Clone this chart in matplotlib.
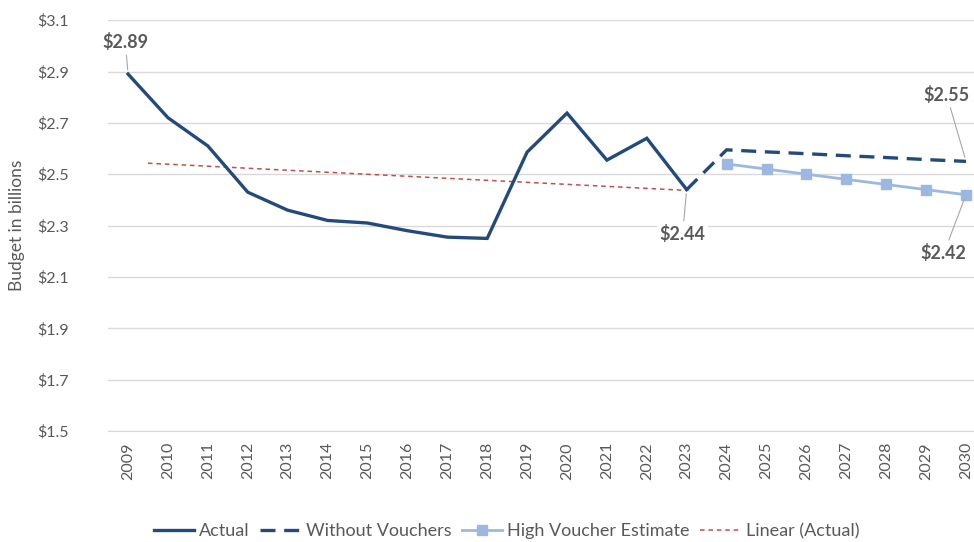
import numpy as np
import matplotlib.pyplot as plt

# donnees
years_actual = [2009, 2010, 2011, 2012, 2013, 2014, 2015, 2016, 2017, 2018,
                2019, 2020, 2021, 2022, 2023]
actual = [2.89, 2.72, 2.61, 2.43, 2.36, 2.32, 2.31, 2.28, 2.255, 2.25,
          2.586, 2.738, 2.555, 2.64, 2.44]

years_proj = [2023, 2024, 2025, 2026, 2027, 2028, 2029, 2030]
without_vouchers = [2.44, 2.595, 2.587, 2.58, 2.572, 2.565, 2.557, 2.55]

years_high = [2024, 2025, 2026, 2027, 2028, 2029, 2030]
high_voucher = [2.54, 2.52, 2.50, 2.48, 2.46, 2.44, 2.42]

# tendance lineaire
trend_years = [2009.5, 2023]
trend_vals = [2.543, 2.437]

all_years = list(range(2009, 2031))
yticks = [1.5, 1.7, 1.9, 2.1, 2.3, 2.5, 2.7, 2.9, 3.1]

plt.rcParams['font.family'] = ['Lato', 'DejaVu Sans']
grey = '#595959'

fig = plt.figure(figsize=(9.74, 5.42), dpi=100)
ax = fig.add_axes([0.111, 0.2048, 0.889, 0.758])

ax.plot(years_actual, actual, color='#244a7c', lw=2.4, label='Actual',
        solid_joinstyle='miter', zorder=4)
ax.plot(years_proj, without_vouchers, color='#244a7c', lw=2.4,
        dashes=(4.5, 2.6), label='Without Vouchers', zorder=4)
ax.plot(years_high, high_voucher, color='#9db8e0', lw=2.0, marker='s',
        markersize=7.5, label='High Voucher Estimate', zorder=3)
ax.plot(trend_years, trend_vals, color='#c0504d', lw=1.1,
        dashes=(3, 2.5), label='Linear (Actual)', zorder=2)

# axes
ax.set_xlim(2008.5, 2030.2)
ax.set_ylim(1.5, 3.1)
ax.set_xticks(all_years)
ax.set_xticklabels([str(y) for y in all_years], rotation=90)
ax.set_yticks(yticks)
ax.set_yticklabels(['$%.1f' % v for v in yticks])
ax.tick_params(axis='both', length=0, labelsize=11.5, colors=grey)
ax.tick_params(axis='y', pad=28)
ax.tick_params(axis='x', pad=8)
ax.grid(True, axis='y', color='#d9d9d9', lw=1)
ax.set_axisbelow(True)
for s in ['top', 'right', 'left']:
    ax.spines[s].set_visible(False)
ax.spines['bottom'].set_color('#d9d9d9')
ax.set_ylabel('Budget in billions', fontsize=12.5, color=grey)
ax.yaxis.set_label_coords(-0.096, 0.5)

# etiquettes
arrow = dict(arrowstyle='-', color='#a6a6a6', lw=0.8, shrinkA=1, shrinkB=3)
labels = [((2009, 2.89), (-2, 23)), ((2023, 2.44), (-3, -32)),
          ((2030, 2.55), (-14, 48)), ((2030, 2.42), (-16, -42))]
for xy, off in labels:
    ax.annotate('$%.2f' % xy[1], xy=xy, xytext=off, textcoords='offset points',
                ha='center', va='center', fontsize=13, fontweight='bold',
                color=grey, arrowprops=arrow, annotation_clip=False,
                bbox=dict(boxstyle='square,pad=0.15', fc='white', ec='none'))

fig.legend(loc='lower center', bbox_to_anchor=(0.52, -0.025), ncol=4,
           frameon=False, fontsize=13, labelcolor=grey, handlelength=2.2,
           handletextpad=0.3, columnspacing=0.6)

plt.savefig('out.png', dpi=100)
